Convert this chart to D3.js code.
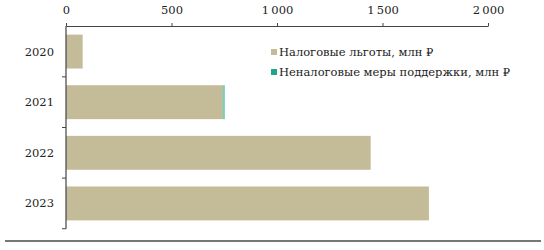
<!DOCTYPE html>
<html>
<head>
<meta charset="utf-8">
<script src="https://cdn.jsdelivr.net/npm/d3@7"></script>
<style>
  body { margin: 0; background: #fff; }
  text { font-family: "DejaVu Serif", "Liberation Serif", serif; fill: #222; }
</style>
</head>
<body>
<script>
const years = ['2020', '2021', '2022', '2023'],
  taxBenefits = [79, 744, 1444, 1720],
  nonTaxSupport = [0, 9, 0, 0],
  xTicks = [0, 500, 1000, 1500, 2000],
  seriesNames = ['Налоговые льготы, млн ₽', 'Неналоговые меры поддержки, млн ₽'],
  colors = ['#c4bc98', '#1fa58c'];

const width = 544, height = 250,
  margin = { top: 26, right: 56, bottom: 21, left: 66 },
  fontSize = 11.5;

const svg = d3.select('body')
  .append('svg')
  .attr('width', width)
  .attr('height', height);

const x = d3.scaleLinear()
  .domain([0, 2000])
  .range([margin.left, width - margin.right]);

const y = d3.scaleBand()
  .domain(years)
  .range([margin.top, height - margin.bottom])
  .paddingInner(0.33)
  .paddingOuter(0.17);

// top axis
const xAxis = svg.append('g')
  .attr('transform', `translate(0,${margin.top})`)
  .call(d3.axisTop(x).tickValues(xTicks).tickSize(3).tickSizeOuter(0)
    .tickFormat(d => d3.format(',')(d).replace(',', '\u2009')));
xAxis.select('.domain').attr('stroke', '#444').attr('stroke-width', 1.2);
xAxis.selectAll('.tick line').attr('stroke', '#444');
xAxis.selectAll('text').attr('font-size', fontSize).attr('dy', -6).attr('fill', '#222')
  .attr('font-family', '"DejaVu Serif", serif');

// bars
svg.append('g').selectAll('rect')
  .data(years)
  .join('rect')
  .attr('x', x(0))
  .attr('y', d => y(d))
  .attr('height', y.bandwidth())
  .attr('width', (d, i) => x(taxBenefits[i]) - x(0))
  .attr('fill', colors[0]);

svg.append('g').selectAll('rect')
  .data(years)
  .join('rect')
  .attr('x', (d, i) => x(taxBenefits[i]))
  .attr('y', d => y(d))
  .attr('height', y.bandwidth())
  .attr('width', (d, i) => x(nonTaxSupport[i]) - x(0))
  .attr('fill', '#6dd3c2');

// left axis with ticks between bands
const step = y.step();
const bounds = [margin.top].concat(years.map(d => y(d) + y.bandwidth() + (step - y.bandwidth()) / 2));
const yAxis = svg.append('g');
yAxis.append('line')
  .attr('x1', x(0)).attr('x2', x(0))
  .attr('y1', margin.top).attr('y2', bounds[bounds.length - 1])
  .attr('stroke', '#444').attr('stroke-width', 1.2);
yAxis.selectAll('.tk')
  .data(bounds.slice(1))
  .join('line')
  .attr('x1', x(0) - 4).attr('x2', x(0))
  .attr('y1', d => d).attr('y2', d => d)
  .attr('stroke', '#444');
yAxis.selectAll('text')
  .data(years)
  .join('text')
  .attr('x', x(0) - 12)
  .attr('y', d => y(d) + y.bandwidth() / 2)
  .attr('dy', '0.35em')
  .attr('text-anchor', 'end')
  .attr('font-size', fontSize)
  .text(d => d);

// legend
const legend = svg.append('g').attr('transform', 'translate(271,52)');
legend.selectAll('rect')
  .data(seriesNames)
  .join('rect')
  .attr('x', 0)
  .attr('y', (d, i) => i * 20 - 3)
  .attr('width', 6).attr('height', 6)
  .attr('fill', (d, i) => colors[i]);
legend.selectAll('text')
  .data(seriesNames)
  .join('text')
  .attr('x', 8)
  .attr('y', (d, i) => i * 20)
  .attr('dy', '0.35em')
  .attr('font-size', fontSize)
  .text(d => d);

// bottom rule
svg.append('line')
  .attr('x1', 5).attr('x2', 541)
  .attr('y1', 241).attr('y2', 241)
  .attr('stroke', '#777').attr('stroke-width', 2);
</script>
</body>
</html>
